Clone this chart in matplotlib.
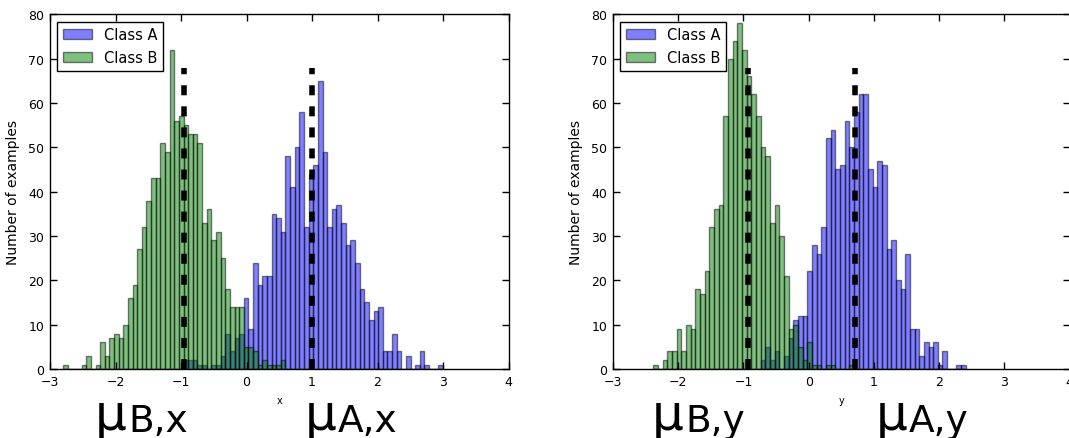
import numpy as np
import matplotlib
matplotlib.use("Agg")
import matplotlib.pyplot as plt

plt.rcParams["font.family"] = ["DejaVu Sans"]
plt.rcParams["lines.scale_dashes"] = True

# Histogram bins per feature: (first edge, last edge, number of bins)
x_bin_spec = (-2.80, 3.00, 82)
y_bin_spec = (-2.38, 2.41, 67)

# Counts per bin, feature x
class_a_x = [0] * 26 + [2, 2, 2, 1, 1, 0, 1, 1, 3, 8, 4, 7, 8, 16, 9, 24, 19, 21, 21, 35,
                        34, 31, 48, 41, 50, 58, 32, 44, 46, 65, 49, 32, 36, 37, 33, 28, 29, 24, 18, 15,
                        11, 13, 14, 4, 4, 8, 4, 0, 3, 0, 1, 4, 1, 0, 0, 1]
class_b_x = [1, 0, 0, 0, 1, 3, 0, 1, 6, 3, 7, 8, 7, 10, 16, 19, 27, 32, 38, 43,
             43, 51, 49, 72, 56, 57, 55, 53, 53, 51, 33, 36, 29, 31, 25, 18, 14, 14, 14, 5,
             5, 4, 1, 2, 1, 1, 1, 2] + [0] * 34

# Counts per bin, feature y
class_a_y = [0] * 23 + [2, 5, 2, 4, 0, 3, 7, 11, 12, 12, 22, 28, 26, 32, 52, 54, 45, 46, 56, 50,
                        58, 62, 62, 45, 41, 47, 46, 27, 29, 20, 18, 26, 9, 9, 3, 6, 5, 6, 1, 4,
                        0, 0, 1, 1]
class_b_y = [1, 0, 2, 4, 4, 9, 4, 10, 9, 18, 17, 22, 32, 36, 37, 57, 70, 74, 78, 72,
             66, 62, 57, 50, 48, 33, 37, 30, 21, 9, 10, 5, 2, 6, 1, 1, 0, 1, 1, 0,
             0, 0, 1] + [0] * 24

# Class means per feature
mean_a = {"x": 1.00, "y": 0.71}
mean_b = {"x": -0.95, "y": -0.93}
mean_line_top = 68

class_labels = ["Class A", "Class B"]
xticks = [-3, -2, -1, 0, 1, 2, 3, 4]
yticks = [0, 10, 20, 30, 40, 50, 60, 70, 80]

W, H = 1069, 439
fig = plt.figure(figsize=(W / 100, H / 100), dpi=100)


def axes_px(x0, x1, y0, y1):
    return fig.add_axes([x0 / W, 1 - y1 / H, (x1 - x0) / W, (y1 - y0) / H])


def draw_panel(ax, spec, counts_a, counts_b, feature):
    edges = np.linspace(spec[0], spec[1], spec[2] + 1)
    centers = 0.5 * (edges[:-1] + edges[1:])
    ax.hist(centers, bins=edges, weights=counts_a, color="b", alpha=0.5,
            edgecolor="k", linewidth=1.0, label=class_labels[0])
    ax.hist(centers, bins=edges, weights=counts_b, color="g", alpha=0.5,
            edgecolor="k", linewidth=1.0, label=class_labels[1])
    for mu in (mean_b[feature], mean_a[feature]):
        ax.plot([mu, mu], [0, mean_line_top], color="k", lw=4,
                linestyle=(0, (1.8, 1.99)), solid_capstyle="butt")
    ax.set_xlim(-3, 4)
    ax.set_ylim(0, 80)
    ax.set_xticks(xticks)
    ax.set_yticks(yticks)
    ax.tick_params(direction="in", top=True, right=True, length=5, width=1,
                   labelsize=9, pad=4)
    for s in ax.spines.values():
        s.set_linewidth(1.0)
    ax.set_xlabel(feature, fontsize=7, labelpad=5)
    ax.set_ylabel("Number of examples", fontsize=10, labelpad=6)
    leg = ax.legend(loc="upper left", fontsize=10.5, fancybox=False, framealpha=1,
                    edgecolor="k", handlelength=2.0, handleheight=0.7,
                    borderpad=0.4, labelspacing=0.5, handletextpad=0.8,
                    borderaxespad=0.5)
    leg.get_frame().set_linewidth(1.0)


ax1 = axes_px(50, 508.5, 15.3, 370)
draw_panel(ax1, x_bin_spec, class_a_x, class_b_x, "x")
ax2 = axes_px(613, 1069.5, 15.3, 370)
draw_panel(ax2, y_bin_spec, class_a_y, class_b_y, "y")


def mu_label(x_px, base_px, sub):
    fig.text(x_px / W, 1 - base_px / H, "\u03bc", fontsize=36, va="baseline", ha="left")
    fig.text((x_px + 33) / W, 1 - (base_px + 2) / H, sub, fontsize=27,
             va="baseline", ha="left")


mu_label(95, 430, "B,x")
mu_label(305, 430, "A,x")
mu_label(652, 430, "B,y")
mu_label(876, 430, "A,y")

fig.savefig("out.png", dpi=100)
